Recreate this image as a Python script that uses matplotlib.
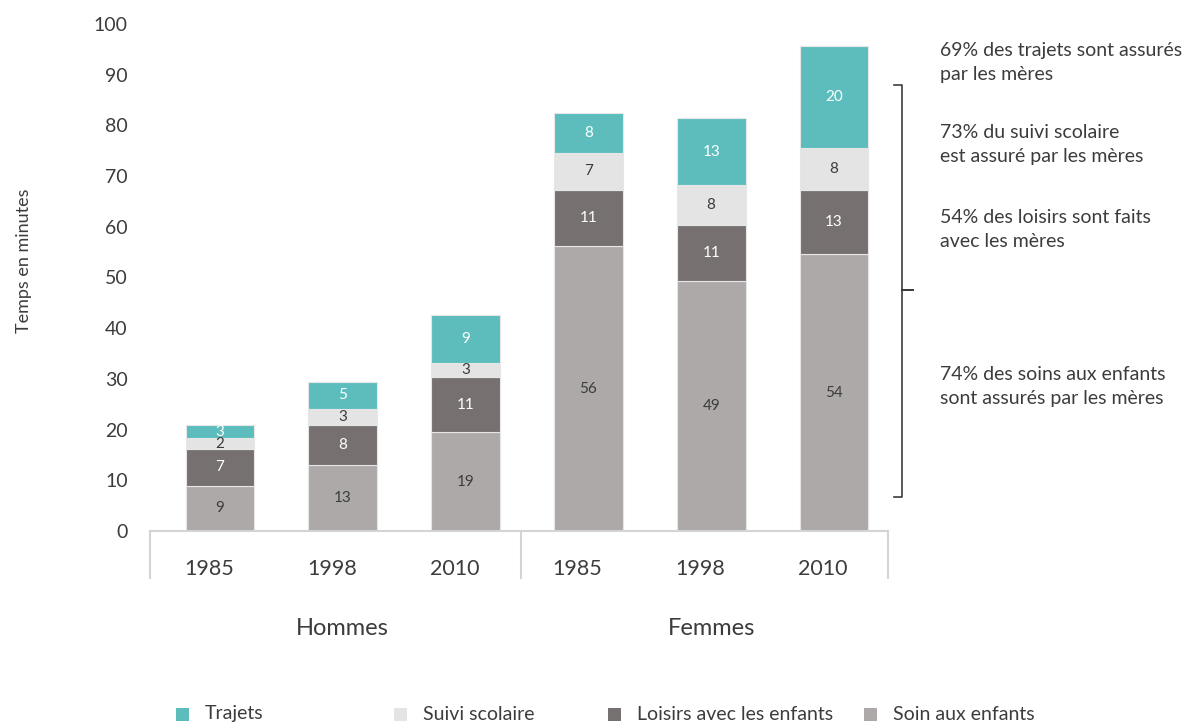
import matplotlib
matplotlib.use("Agg")
import matplotlib.pyplot as plt
from matplotlib.patches import Rectangle
from matplotlib.lines import Line2D
import matplotlib.transforms as mtransforms
from matplotlib import font_manager

# ---------------- data ----------------
years = ["1985", "1998", "2010", "1985", "1998", "2010"]
groups = ["Hommes", "Femmes"]
soin = [8.9, 13.0, 19.5, 56.2, 49.3, 54.6]
loisirs = [7.3, 7.9, 10.9, 11.1, 11.1, 12.7]
suivi = [2.1, 3.2, 2.7, 7.3, 7.8, 8.2]
trajets = [2.6, 5.3, 9.5, 7.8, 13.3, 20.2]
labels_soin = [9, 13, 19, 56, 49, 54]
labels_loisirs = [7, 8, 11, 11, 11, 13]
labels_suivi = [2, 3, 3, 7, 8, 8]
labels_trajets = [3, 5, 9, 8, 13, 20]
series_names = ["Trajets", "Suivi scolaire", "Loisirs avec les enfants", "Soin aux enfants"]
annotations = [
    "69% des trajets sont assurés\npar les mères",
    "73% du suivi scolaire\nest assuré par les mères",
    "54% des loisirs sont faits\navec les mères",
    "74% des soins aux enfants\nsont assurés par les mères",
]

# ---------------- style ----------------
c_traj = "#5dbdbd"
c_suivi = "#e4e4e4"
c_lois = "#767170"
c_soin = "#ada9a8"
txt_col = "#3c3c3c"

avail = {f.name for f in font_manager.fontManager.ttflist}
main_font = "Lato" if "Lato" in avail else "DejaVu Sans"
plt.rcParams["font.family"] = [main_font, "DejaVu Sans"]

W, H = 1187, 725
fig = plt.figure(figsize=(W / 100, H / 100), dpi=100)
ax = fig.add_axes([150 / W, 1 - 531 / H, 738 / W, (531 - 24) / H])

x = list(range(len(years)))
bw = 0.56
ec = "#e6e6e6"

b1 = ax.bar(x, soin, bw, color=c_soin, edgecolor=ec, linewidth=0.8)
b2 = ax.bar(x, loisirs, bw, bottom=soin, color=c_lois, edgecolor=ec, linewidth=0.8)
bot3 = [a + b for a, b in zip(soin, loisirs)]
b3 = ax.bar(x, suivi, bw, bottom=bot3, color=c_suivi, edgecolor=ec, linewidth=0.8)
bot4 = [a + b for a, b in zip(bot3, suivi)]
b4 = ax.bar(x, trajets, bw, bottom=bot4, color=c_traj, edgecolor=ec, linewidth=0.8)

lfs = 11
ax.bar_label(b1, labels=[str(v) for v in labels_soin], label_type="center", color=txt_col, fontsize=lfs)
ax.bar_label(b2, labels=[str(v) for v in labels_loisirs], label_type="center", color="white", fontsize=lfs)
ax.bar_label(b3, labels=[str(v) for v in labels_suivi], label_type="center", color=txt_col, fontsize=lfs)
ax.bar_label(b4, labels=[str(v) for v in labels_trajets], label_type="center", color="white", fontsize=lfs)

xl, xr = -0.57, 5.44
ax.set_xlim(xl, xr)
ax.set_ylim(0, 100)
ax.set_yticks(range(0, 101, 10))
ax.set_yticklabels([str(v) for v in range(0, 101, 10)], fontsize=14, color=txt_col)
ax.set_xticks([v - 0.09 for v in x])
ax.set_xticklabels(years, fontsize=15.5, color=txt_col)
ax.tick_params(axis="both", length=0)
ax.tick_params(axis="y", pad=16)
ax.tick_params(axis="x", pad=20)
for s in ["top", "right", "left"]:
    ax.spines[s].set_visible(False)
ax.spines["bottom"].set_color("#d4d4d4")
ax.spines["bottom"].set_linewidth(1.5)

ax.set_ylabel("Temps en minutes", fontsize=13, color=txt_col)
ax.yaxis.set_label_coords(-0.16, 0.534)

# group box lines below axis
trans = mtransforms.blended_transform_factory(ax.transData, ax.transAxes)
for xv in [xl, 2.45, xr]:
    ax.add_line(Line2D([xv, xv], [0, -0.093], transform=trans, color="#d4d4d4", lw=1.5, clip_on=False))
for gi, g in enumerate(groups):
    ax.text(1 + 3 * gi, -0.192, g, transform=trans, ha="center", va="center",
            fontsize=17, color=txt_col)

# brace on right
bx = 5.55
brace = [(5.49, 88.0), (bx, 88.0), (bx, 47.5), (5.64, 47.5), (bx, 47.5), (bx, 6.7), (5.49, 6.7)]
ax.add_line(Line2D([p[0] for p in brace], [p[1] for p in brace], color="#3c3c3c", lw=1.2, clip_on=False))

# annotations
ann_y = [42, 124, 209, 366]
for t, yy in zip(annotations, ann_y):
    fig.text(940 / W, 1 - yy / H, t, ha="left", va="top", fontsize=14, color=txt_col, linespacing=1.53)

# legend (manual)
leg_x = [176, 394, 608, 864]
leg_cols = [c_traj, c_suivi, c_lois, c_soin]
for lx, col, name in zip(leg_x, leg_cols, series_names):
    fig.patches.append(Rectangle((lx / W, 1 - 721 / H), 13 / W, 13 / H, transform=fig.transFigure,
                                 facecolor=col, edgecolor="none"))
    fig.text((lx + 29) / W, 1 - 714 / H, name, ha="left", va="center", fontsize=14, color=txt_col)

fig.savefig("out.png", dpi=100)
